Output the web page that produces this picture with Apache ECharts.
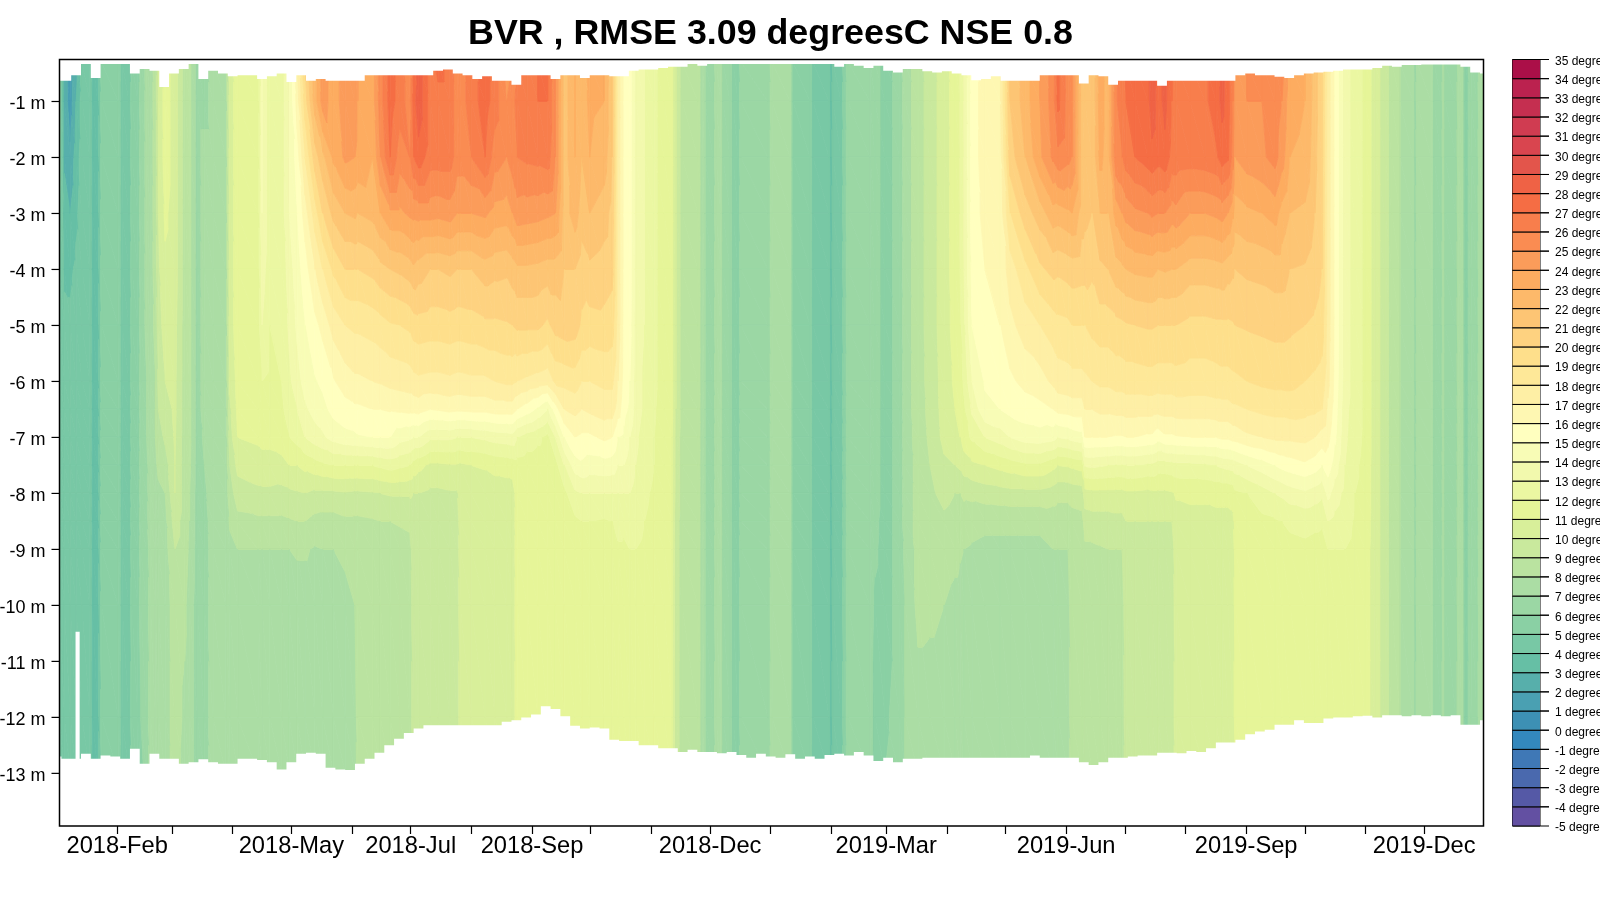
<!DOCTYPE html>
<html><head><meta charset="utf-8">
<style>html,body{margin:0;padding:0;background:#fff}#c{width:1600px;height:900px}</style>
<script src="https://cdn.jsdelivr.net/npm/echarts@6/dist/echarts.min.js"></script>
</head><body><div id="c"></div>
<script>
const titleText = "BVR , RMSE 3.09 degreesC NSE 0.8";
const depthTicks = [-1,-2,-3,-4,-5,-6,-7,-8,-9,-10,-11,-12,-13];
const monthTickDays = [31,59,90,120,151,181,212,243,273,304,334,365,396,424,455,485,516,546,577,608,638,669,699];
const labelDays = [31,120,181,243,334,424,516,608,699];
const labelTexts = ["2018-Feb","2018-May","2018-Jul","2018-Sep","2018-Dec","2019-Mar","2019-Jun","2019-Sep","2019-Dec"];
const legendLevels = [];
for (let k=-5;k<35;k++) legendLevels.push(k);
const depths = [0.3,1,2,3,4,5,6,6.5,7,7.5,8,8.5,9,10,12,13];
// each row: day since 2018-01-01, then temperature at each depth
const profileTable = [
[1.5,5.5,5.5,5.5,5,4.7,4.5,4.5,4.5,4.5,4.5,4.5,4.5,4.5,4.5,4.5,4.5],
[4,2.5,2.5,2.8,3.5,3.8,4.3,4.5,4.5,4.5,4.5,4.5,4.5,4.5,4.5,4.5,4.5],
[7,1.5,1.5,2.2,3,3.8,4.2,4.5,4.5,4.5,4.5,4.5,4.5,4.5,4.5,4.5,4.5],
[10,2.5,3,3.5,3.8,4.2,4.5,4.5,4.5,4.5,4.5,4.5,4.5,4.5,4.5,4.5,4.5],
[13,4.5,4.5,4.5,4.5,4.5,4.5,4.5,4.5,4.5,4.5,4.5,4.5,4.5,4.5,4.5,4.5],
[17,4.5,4.5,4.5,4.5,4.5,4.5,4.5,4.5,4.5,4.5,4.5,4.5,4.5,4.5,4.5,4.5],
[18.5,3.5,3.5,3.5,3.5,3.5,3.5,3.5,3.5,3.5,3.5,3.5,3.5,3.5,3.5,3.5,3.5],
[21,3.5,3.5,3.5,3.5,3.5,3.5,3.5,3.5,3.5,3.5,3.5,3.5,3.5,3.5,3.5,3.5],
[23,5.5,5.5,5.5,5.5,5.5,5.5,5.5,5.5,5.5,5.5,5.5,5.5,5.5,5.5,5.5,5.5],
[31.5,5.5,5.5,5.5,5.5,5.5,5.5,5.5,5.5,5.5,5.5,5.5,5.5,5.5,5.5,5.5,5.5],
[33.5,4.5,4.5,4.5,4.5,4.5,4.5,4.5,4.5,4.5,4.5,4.5,4.5,4.5,4.5,4.5,4.5],
[37,4.5,4.5,4.5,4.5,4.5,4.5,4.5,4.5,4.5,4.5,4.5,4.5,4.5,4.5,4.5,4.5],
[38.5,5.5,5.5,5.5,5.5,5.5,5.5,5.5,5.5,5.5,5.5,5.5,5.5,5.5,5.5,5.5,5.5],
[41.5,5.5,5.5,5.5,5.5,5.5,5.5,5.5,5.5,5.5,5.5,5.5,5.5,5.5,5.5,5.5,5.5],
[43,6.5,6.5,6.5,6.5,6.5,6.5,6.5,6.5,6.5,6.5,6.5,6.5,6.5,6.5,6,5.5],
[46,7.2,7.2,7.2,7.2,7.2,7.2,7,7,7,6.8,6.8,6.8,6.5,6.5,6.5,6.5],
[48,7.5,7.5,7.5,7.5,7.5,7.5,7.5,7.5,7.5,7.5,7.5,7.5,7.5,7.5,7.5,7.5],
[50.5,8.5,8.5,8.5,8.5,8.5,8.3,8,8,8,7.8,7.6,7.5,7.5,7.5,7.5,7.5],
[52,10,10,10,10,9.8,9.5,9.2,9,8.5,8.2,7.8,7.6,7.5,7.5,7.5,7.5],
[55.5,11.5,11.5,11.5,11.2,10.8,10.5,10,9.5,9.2,8.5,8,7.7,7.6,7.5,7.5,7.5],
[60.5,10.5,10.5,10.5,10.5,10.5,10.3,10.2,10.2,10.1,10,10,9.5,9,8.5,8.5,8.5],
[65.5,8.5,8.5,8.5,8.5,8.5,8.5,8.5,8.5,8.5,8.5,8.5,8.5,8.5,8.2,7.8,7.6],
[68,8.3,8.3,8.3,8.3,8.3,8.3,8.3,8.3,8.3,8.2,8,8,7.8,7.5,7.5,7.5],
[72,6.5,6.5,6.5,6.5,6.5,6.5,6.5,6.5,6.5,6.5,6.5,6.5,6.5,6.5,6.5,6.5],
[75.5,6.5,6.5,7.5,7.5,7.5,7.5,7.5,7.5,7.2,7,6.8,6.6,6.5,6.5,6.5,6.5],
[80,7.5,7.5,7.5,7.5,7.5,7.5,7.5,7.5,7.5,7.5,7.5,7.5,7.5,7.5,7.5,7.5],
[86.5,7.5,7.5,7.5,7.5,7.5,7.5,7.5,7.5,7.5,7.5,7.5,7.5,7.5,7.3,7.2,7],
[88.5,10.5,10.5,10.5,10.5,10.5,10.5,10.2,9.8,9.5,9,8.5,8.1,7.8,7.5,7.5,7.5],
[92.5,11.5,11.5,11.5,11.5,11.5,11.5,11.3,11.2,11,10.3,9.5,8.7,8,7.6,7.5,7.5],
[103,11.5,11.5,11.5,11.5,11.5,11.5,11.4,11.2,11.2,10.5,9.8,8.8,8,7.6,7.5,7.5],
[105,14,14,14,14,13.5,13,12,11.6,11.3,10.6,9.8,8.8,8,7.6,7.5,7.5],
[109,12.3,12.3,12.3,12.3,12.3,12,11.8,11.5,11.3,10.6,9.8,8.8,8,7.6,7.5,7.5],
[115,12.5,12.5,12.5,12.5,12.3,12.2,12,11.8,11.5,10.7,9.7,8.8,8,7.5,7.5,7.5],
[119,14,14,14,14,13.5,13.2,12.8,12.5,12,11,9.8,8.9,8,7.5,7.5,7.5],
[123,17,16.5,15.5,15,14.6,14.2,13.6,13,12.4,11,9.9,9,8.1,7.6,7.5,7.5],
[127,20,19.5,18,16.5,15.5,15,14.4,13.8,13,11.3,10,9,8.1,7.6,7.5,7.5],
[132,22.5,22.5,20.5,18.5,17,15.7,14.9,14.4,13.5,11.6,9.8,8.7,7.9,7.6,7.5,7.5],
[136,24.5,24.5,21.7,20,18,16.3,15.2,14.7,13.8,11.8,9.8,8.6,8,7.6,7.5,7.5],
[141.5,23.5,23.5,23.2,21.3,19.2,17.4,15.9,15.3,14.4,12,9.8,8.6,8,7.6,7.5,7.5],
[147.5,24.5,24.5,24.2,22,20,18,16.5,15.6,14.7,12,9.9,8.8,8.2,7.7,7.5,7.5],
[152.5,24.5,24.5,24,22.2,20,18.2,16.8,15.8,14.8,12,9.8,8.8,8.4,8,7.6,7.5],
[154,24,24,23.8,22,20,18.2,16.8,15.8,14.9,12,9.8,8.8,8.5,8.5,8.5,8.5],
[161.5,23.5,23.5,23,22.3,20.3,18.4,17,16,15,12,9.9,8.9,8.6,8.5,8.5,8.5],
[165.5,25.5,25.5,25,23,20.7,18.6,17.1,16,15,12.2,10,9,8.6,8.5,8.5,8.5],
[170.5,27.5,27.5,27,23.8,21,18.9,17.3,16.1,15,12.4,10.1,9,8.6,8.5,8.5,8.5],
[175.5,26.5,26.5,25.5,23.8,21.2,19,17.4,16.2,14.4,12.2,10.1,9.1,8.6,8.5,8.5,8.5],
[180.5,25,25.5,26,24.2,21.5,19.2,17.5,16.3,14.2,12,10.1,9.2,8.7,8.5,8.5,8.5],
[182.5,27,27.5,27,24.3,21.8,19.5,17.7,16.3,14,11.6,10,9.6,9.5,9.5,9.5,9.5],
[185,28.7,28.7,27.6,24.4,21.5,19.6,17.8,16.4,14,11.3,10,9.6,9.5,9.5,9.5,9.5],
[191,26.5,26.5,26.5,24.4,21,19.5,17.7,16,13.2,10.8,9.8,9.6,9.5,9.5,9.5,9.5],
[195,27.5,26.5,26.5,24.3,21,19.5,17.7,16.1,13.2,10.8,9.8,9.6,9.5,9.5,9.5,9.5],
[201,26.5,26.5,26.5,24.5,21.2,19.6,17.8,16.3,13.2,10.9,9.9,9.5,9.5,9.5,9.5,9.5],
[204.8,25.5,25.5,25.5,24,21,19.5,17.7,16.2,13,10.9,9.9,9.5,9.5,9.5,9.5,9.5],
[206.3,25.5,25.5,25.5,24,21,19.5,17.7,16.2,13,10.8,10.5,10.5,10.5,10.5,10.5,10.5],
[212,26.5,26.5,26,24,21,19.6,17.8,16.3,13,11,10.5,10.5,10.5,10.5,10.5,10.5],
[219,27.5,27.5,27,24.2,21.5,19.8,17.8,16.3,13.2,11.1,10.5,10.5,10.5,10.5,10.5,10.5],
[224,26.5,26.5,25.5,23.6,21.3,19.8,18,16.5,13.4,11.3,10.5,10.5,10.5,10.5,10.5,10.5],
[230,24.5,25,25,23.5,21.2,19.9,18.2,16.5,13.5,11.4,10.5,10.5,10.5,10.5,10.5,10.5],
[233,25,25.5,25.5,24,21.5,20,18.2,16.5,13.6,11.5,10.5,10.5,10.5,10.5,10.5,10.5],
[235.5,26,26.5,26,24.6,21.8,20.2,18,16,13,11.6,11.5,11.5,11.5,11.5,11.5,11.5],
[240.5,26.5,26.5,26.2,24.5,21.8,20.2,17.8,15.5,12.5,11.5,11.5,11.5,11.5,11.5,11.5,11.5],
[246,27,27,26.3,24.4,21.7,20.2,17.6,14.8,12.2,11.5,11.5,11.5,11.5,11.5,11.5,11.5],
[251,27,27,26.5,24.2,21.5,19.8,17.4,14,11.7,11.5,11.5,11.5,11.5,11.5,11.5,11.5],
[255,25,25,25,24,21.5,20.4,18.2,15.5,13,11.6,11.5,11.5,11.5,11.5,11.5,11.5],
[259.5,21.5,21.5,21.5,21.5,21,20.6,18.3,17,15,13,11.7,11.5,11.5,11.5,11.5,11.5],
[265,23,23,23,22.5,21,20.5,18.5,17.3,16,14.5,12.8,11.8,11.5,11.5,11.5,11.5],
[268.5,22.5,22.5,22,21.5,20.5,19.8,18,17,15.8,14.8,13,12,11.5,11.5,11.5,11.5],
[272.5,23.2,23.2,23,22,20.8,19.6,18,17.2,15.8,14.5,13,12,11.6,11.5,11.5,11.5],
[280,23,23,22.5,21.5,20.5,19.7,18.2,17.5,16.2,14.6,13,11.9,11.5,11.5,11.5,11.5],
[284,21,21,21,20.6,20.3,19.5,18.2,17.5,16,14.5,13,12,11.6,11.5,11.5,11.5],
[287,17.5,17.5,17.5,17.5,17.5,17.5,17,16.5,15,14,13,12.5,11.8,11.5,11.5,11.5],
[290,15.8,15.8,15.8,15.8,15.8,15.7,15.6,15.3,14.8,14,13,12.3,11.8,11.5,11.5,11.5],
[293,15.5,15.5,15.5,15.5,15.5,15.4,15,14.8,14,13.5,13,12.5,12,11.5,11.5,11.5],
[296,13.5,13.5,13.5,13.5,13.5,13.5,13.5,13.5,13.2,13,12.7,12.4,12,11.5,11.5,11.5],
[300.5,13,13,13,13,13,13,12.8,12.8,12.5,12.5,12.2,12,11.8,11.5,11.5,11.5],
[305.5,12.2,12.2,12.2,12.2,12.2,12.2,12.2,12.1,12,12,11.8,11.7,11.6,11.5,11.5,11.5],
[310.5,11.5,11.5,11.5,11.5,11.5,11.5,11.5,11.5,11.5,11.5,11.5,11.5,11.5,11.5,11.5,11.5],
[314.6,11.2,11.2,11.2,11.2,11.2,11.2,11.2,11.2,11,11,11,11,11,11,11,11],
[316.6,10,10,10,10,10,10,10,10,9.8,9.8,9.8,9.5,9.5,9.5,9.5,9.5],
[319.7,8.5,8.5,8.5,8.5,8.5,8.5,8.5,8.5,8.5,8.5,8.5,8.5,8.5,8.5,8.5,8.5],
[327.8,8.5,8.5,8.5,8.5,8.5,8.5,8.5,8.5,8.5,8.5,8.5,8.5,8.5,8.5,8.5,8.5],
[329.9,7.5,7.5,7.5,7.5,7.5,7.5,7.5,7.5,7.5,7.5,7.5,7.5,7.5,7.5,7.5,7.5],
[331.4,7,7,7,7,7,7,7,7,7,7,7,7,7,7,7,7],
[335.5,6.5,6.5,6.5,6.5,6.5,6.5,6.5,6.5,6.5,6.5,6.5,6.5,6.5,6.5,6.5,6.5],
[337,7.5,7.5,7.5,7.5,7.5,7.5,7.5,7.5,7.5,7.5,7.5,7.5,7.5,7.5,7.5,7.5],
[339.5,7.5,7.5,7.5,7.5,7.5,7.5,7.5,7.5,7.5,7.5,7.5,7.5,7.5,7.5,7.5,7.5],
[340.6,6.5,6.5,6.5,6.5,6.5,6.5,6.5,6.5,6.5,6.5,6.5,6.5,6.5,6.5,6.5,6.5],
[344.2,6.5,6.5,6.5,6.5,6.5,6.5,6.5,6.5,6.5,6.5,6.5,6.5,6.5,6.5,6.5,6.5],
[345.7,5.5,5.5,5.5,5.5,5.5,5.5,5.5,5.5,5.5,5.5,5.5,5.5,5.5,5.5,5.5,5.5],
[348.3,5.5,5.5,5.5,5.5,5.5,5.5,5.5,5.5,5.5,5.5,5.5,5.5,5.5,5.5,5.5,5.5],
[349.8,6.5,6.5,6.5,6.5,6.5,6.5,6.5,6.5,6.5,6.5,6.5,6.5,6.5,6.5,6.5,6.5],
[363.6,6.5,6.5,6.5,6.5,6.5,6.5,6.5,6.5,6.5,6.5,6.5,6.5,6.5,6.5,6.5,6.5],
[365.7,7.5,7.5,7.5,7.5,7.5,7.5,7.5,7.5,7.5,7.5,7.5,7.5,7.5,7.5,7.5,7.5],
[374.9,7.5,7.5,7.5,7.5,7.5,7.5,7.5,7.5,7.5,7.5,7.5,7.5,7.5,7.5,7.5,7.5],
[376.4,5.5,5.5,5.5,5.5,5.5,5.5,5.5,5.5,5.5,5.5,5.5,5.5,5.5,5.5,5.5,5.5],
[385.1,5.5,5.5,5.5,5.5,5.5,5.5,5.5,5.5,5.5,5.5,5.5,5.5,5.5,5.5,5.5,5.5],
[386.6,4.5,4.5,4.5,4.5,4.5,4.5,4.5,4.5,4.5,4.5,4.5,4.5,4.5,4.5,4.5,4.5],
[394.8,4.5,4.5,4.5,4.5,4.5,4.5,4.5,4.5,4.5,4.5,4.5,4.5,4.5,4.5,4.5,4.5],
[395.8,3.5,3.5,3.5,3.5,3.5,3.5,3.5,3.5,3.5,3.5,3.5,3.5,3.5,3.5,3.5,3.5],
[396.8,4.5,4.5,4.5,4.5,4.5,4.5,4.5,4.5,4.5,4.5,4.5,4.5,4.5,4.5,4.5,4.5],
[400.9,4.5,4.5,4.5,4.5,4.5,4.5,4.5,4.5,4.5,4.5,4.5,4.5,4.5,4.5,4.5,4.5],
[402.5,5.5,5.5,5.5,5.5,5.5,5.5,5.5,5.5,5.5,5.5,5.5,5.5,5.5,5.5,5.5,5.5],
[404.5,6.5,6.5,6.5,6.5,6.5,6.5,6.5,6.5,6.5,6.5,6.5,6.5,6.5,6.5,6.5,6.5],
[415.8,6.5,6.5,6.5,6.5,6.5,6.5,6.5,6.5,6.5,6.5,6.5,6.5,6.5,6.5,6.5,6.5],
[418.3,6.5,6.5,6.5,6.5,6.5,6.5,6.5,6.5,6.5,6.5,6.5,6.3,6.2,5.8,5.5,5.5],
[423.4,5.5,5.5,5.5,5.5,5.5,5.5,5.5,5.5,5.5,5.5,5.5,5.5,5.5,5.5,5.8,6],
[431,6.5,6.5,6.5,6.5,6.5,6.5,6.5,6.5,6.5,6.5,6.5,6.5,6.5,6.5,6.5,6.5],
[433.6,7.5,7.5,7.5,7.5,7.5,7.5,7.5,7.5,7.5,7.5,7.5,7.5,7.2,7,7,7],
[440.3,8.5,8.5,8.5,8.5,8.5,8.5,8.5,8.5,8.4,8.3,8.3,8.3,8.3,8.3,7.5,7.5],
[446.4,9.5,9.5,9.5,9.5,9.5,9.5,9.4,9.3,9.2,9,8.8,8.6,8.5,8.2,7.5,7.5],
[453.6,10.5,10.5,10.5,10.5,10.5,10.5,10.4,10.4,10.3,9.8,9.3,8.8,8.5,8,7.5,7.5],
[459.2,11.5,11.5,11.5,11.5,11.5,11.4,11.2,11,10.8,10,9,8.6,8.3,7.7,7.5,7.5],
[461.8,12,12,12,12,12,11.8,11.5,11.3,11,10.2,9,8.5,8.1,7.7,7.5,7.5],
[463.8,13,13,13,13,13,12.8,12.2,11.8,11.5,10.5,9.2,8.5,8,7.6,7.5,7.5],
[467.9,15.5,15.5,15.5,15.5,15.3,15,14,13.2,12.2,10.8,9.3,8.3,7.9,7.6,7.5,7.5],
[474.5,16.5,16.5,16.5,16.3,16,15.6,15.1,14.8,13,11,9.5,8.2,7.8,7.6,7.5,7.5],
[482.2,16.8,16.8,16.5,16.3,16.2,16,15.5,15,13.5,11.3,9.6,8.2,7.8,7.6,7.5,7.5],
[487.3,21,21,20.5,19,17.5,16.7,15.8,15.3,14,11.5,9.7,8.2,7.8,7.6,7.5,7.5],
[495,22.5,22.5,22,20.5,18.7,17.5,16.3,15.5,14.5,11.8,9.7,8.2,7.8,7.6,7.5,7.5],
[502.6,24,24,23.8,21.5,19.8,18,16.6,15.7,14.6,11.8,9.7,8.2,7.8,7.7,7.6,7.5],
[509.3,25.5,25.5,25.2,22.6,20.3,18.5,17.2,16,14.4,11.3,9.5,8.4,8,7.7,7.7,7.7],
[511.8,27.3,27.3,25.7,22.5,20.2,18.7,17.5,16.3,14,11,9.3,8.4,8,7.7,7.7,7.7],
[517,25.5,25.5,25.3,22.8,20.4,18.8,17.6,16.4,14.2,11.1,9.3,8.4,8,7.7,7.7,7.7],
[519,25,25,25,23,20.5,19,17.7,16.5,14.4,11.2,9.4,8.6,8.5,8.5,8.5,8.5],
[524.1,21.5,21.5,21.5,21.5,20.4,19,17.7,16.5,14.6,11.4,9.5,8.7,8.5,8.5,8.5,8.5],
[525.6,21.3,21.3,21.3,21.3,20.4,19,17.8,17,16,13.1,10.6,9.5,8.8,8.5,8.5,8.5],
[529.2,21,21,21,21,20.2,19.3,18,17,16,13.2,10.7,9.6,8.8,8.5,8.5,8.5],
[533.3,23.5,23.5,23.3,22,20.8,19.5,18.2,17.2,16,13.1,10.7,9.6,8.9,8.5,8.5,8.5],
[537.4,22.5,22.5,22.5,22,21,19.5,18.2,17.2,16,13,10.7,9.6,9,8.5,8.5,8.5],
[541.5,25.8,25.8,25.8,23.4,21.6,19.7,18.4,17.3,15.9,12.9,10.7,9.7,9,8.6,8.5,8.5],
[544.6,26.8,26.8,26,24,21.8,19.8,18.4,17.3,15.9,12.9,10.7,9.7,9,8.6,8.5,8.5],
[546.6,27,27,26.5,24.4,22,19.9,18.5,17.4,16,13,10.8,10,9.6,9.5,9.5,9.5],
[551.2,27.5,27.5,27,24.8,22.2,20,18.5,17.4,16,13,10.8,10,9.6,9.5,9.5,9.5],
[557.8,27.7,27.7,27.5,25,22.3,20.1,18.6,17.4,15.8,12.8,10.7,10,9.6,9.5,9.5,9.5],
[559.9,28.6,28.6,27.7,25.2,22.3,20.1,18.6,17.4,15.8,12.8,10.8,10,9.6,9.5,9.5,9.5],
[563,27.6,27.6,27.4,25,22,20,18.5,17.3,15.4,12.5,10.8,10,9.6,9.5,9.5,9.5],
[566.5,28.3,28.3,27.7,25,22.1,20,18.5,17.4,15.8,12.5,10.8,10,9.6,9.5,9.5,9.5],
[570.1,27,27,26.6,24.5,22,20,18.5,17.4,15.8,12.6,10.9,10,9.6,9.5,9.5,9.5],
[572.2,26.7,26.7,26.6,24.7,22,20,18.6,17.5,15.9,12.7,11.1,10.7,10.5,10.5,10.5,10.5],
[579.3,26.7,26.7,26.5,24,21.5,19.7,18.5,17.5,16,12.7,11.2,10.7,10.5,10.5,10.5,10.5],
[587,26.8,26.8,26.6,24,21.5,19.7,18.5,17.5,16,12.8,11.2,10.7,10.5,10.5,10.5,10.5],
[592.6,27.5,27.5,26.8,24.2,21.6,19.8,18.6,17.6,16,13,11.3,10.7,10.5,10.5,10.5,10.5],
[595.7,28.3,28.3,27.5,24.4,21.7,19.8,18.7,17.6,16.2,13.2,11.3,10.7,10.5,10.5,10.5,10.5],
[598.7,27.5,27.5,27.2,24,21.4,19.8,18.7,17.6,16.2,13.3,11.3,10.7,10.5,10.5,10.5,10.5],
[601.3,26,26,25.5,23.2,21.2,19.9,18.8,17.8,16.4,13.4,11.4,10.8,10.5,10.5,10.5,10.5],
[602.3,24.5,24.5,24,22.5,21,20,18.8,17.8,16.4,13.5,11.8,11.5,11.5,11.5,11.5,11.5],
[608.4,25,25,24.5,22.8,21.2,20.1,19,18,16.8,14,12,11.6,11.5,11.5,11.5,11.5],
[616.1,25,25,24.8,23,21.3,20.2,19.2,18.2,17,14.5,12.5,11.8,11.5,11.5,11.5,11.5],
[622.7,25.5,25.5,25.4,23.4,21.5,20.3,19.3,18.3,17.2,15,13,11.9,11.5,11.5,11.5,11.5],
[626.3,25.5,25,24.5,22.6,21.5,20.3,19.3,18.3,17.2,15.3,13.2,12,11.6,11.5,11.5,11.5],
[630.4,23.3,23.3,23,22,21,20.2,19.3,18.4,17.2,15.5,13.5,12.2,11.7,11.5,11.5,11.5],
[638.1,23,23,22.8,21.8,20.9,20,19,18.3,17.3,15.8,13.8,12.3,11.8,11.5,11.5,11.5],
[643.2,21.5,21.5,21.3,21,20.5,19.8,18.8,18.2,17,15.5,13.5,12.2,11.7,11.5,11.5,11.5],
[646.8,20,20,20,20,20,19.5,18.6,18,16.6,15,13.2,12.1,11.7,11.5,11.5,11.5],
[649.8,17.5,17.5,17.5,17.5,17.5,17.5,17.3,16.8,16.3,15.5,14.3,13,12,11.6,11.5,11.5],
[653.4,15.8,15.8,15.8,15.8,15.8,15.8,15.7,15.5,15.2,14.5,13.5,12.7,12,11.6,11.5,11.5],
[658.5,13.5,13.5,13.5,13.5,13.5,13.5,13.5,13.3,13.2,13,12.7,12.3,12,11.5,11.5,11.5],
[663.6,12.5,12.5,12.5,12.5,12.5,12.5,12.5,12.5,12.4,12.2,12,11.9,11.8,11.5,11.5,11.5],
[668.7,11.8,11.8,11.8,11.8,11.8,11.8,11.8,11.8,11.8,11.7,11.7,11.6,11.5,11.5,11.5,11.5],
[673.8,10.5,10.5,10.5,10.5,10.5,10.5,10.5,10.5,10.5,10.5,10.5,10.5,10.5,10.5,10.5,10.5],
[679,9.5,9.5,9.5,9.5,9.5,9.5,9.5,9.5,9.5,9.5,9.5,9.5,9.5,9.5,9.5,9.5],
[682.5,8.5,8.5,8.5,8.5,8.5,8.5,8.5,8.5,8.5,8.5,8.5,8.5,8.5,8.5,8.5,8.5],
[686.6,8,8,8,8,8,8,8,8,8,8,8,8,8,8,8,8],
[693.3,7.5,7.5,7.5,7.5,7.5,7.5,7.5,7.5,7.5,7.5,7.5,7.5,7.5,7.5,7.5,7.5],
[694.3,6.5,6.5,6.5,6.5,6.5,6.5,6.5,6.5,6.5,6.5,6.5,6.5,6.5,6.5,6.5,6.5],
[695.3,7.5,7.5,7.5,7.5,7.5,7.5,7.5,7.5,7.5,7.5,7.5,7.5,7.5,7.5,7.5,7.5],
[702.5,7.5,7.5,7.5,7.5,7.5,7.5,7.5,7.5,7.5,7.5,7.5,7.5,7.5,7.5,7.5,7.5],
[704,6.5,6.5,6.5,6.5,6.5,6.5,6.5,6.5,6.5,6.5,6.5,6.5,6.5,6.5,6.5,6.5],
[707.6,6.5,6.5,6.5,6.5,6.5,6.5,6.5,6.5,6.5,6.5,6.5,6.5,6.5,6.5,6.5,6.5],
[708.6,7.5,7.5,7.5,7.5,7.5,7.5,7.5,7.5,7.5,7.5,7.5,7.5,7.5,7.5,7.5,7.5],
[709.6,6.5,6.5,6.5,6.5,6.5,6.5,6.5,6.5,6.5,6.5,6.5,6.5,6.5,6.5,6.5,6.5],
[715.2,6.5,6.5,6.5,6.5,6.5,6.5,6.5,6.5,6.5,6.5,6.5,6.5,6.5,6.5,6.5,6.5],
[716.3,7.5,7.5,7.5,7.5,7.5,7.5,7.5,7.5,7.5,7.5,7.5,7.5,7.5,7.5,7.5,7.5],
[718.3,7.5,7.5,7.5,7.5,7.5,7.5,7.5,7.5,7.5,7.5,7.5,7.5,7.5,7.5,7.5,7.5],
[719.8,5.5,5.5,5.5,5.5,5.5,5.5,5.5,5.5,5.5,5.5,5.5,5.5,5.5,5.5,5.5,5.5],
[723,6.5,6.5,6.5,6.5,6.5,6.5,6.5,6.5,6.5,6.5,6.5,6.5,6.5,6.5,6.5,6.5],
[726,6.5,6.5,6.5,6.5,6.5,6.5,6.5,6.5,6.5,6.5,6.5,6.5,6.5,6.5,6.5,6.5],
[727,7.5,7.5,7.5,7.5,7.5,7.5,7.5,7.5,7.5,7.5,7.5,7.5,7.5,7.5,7.5,7.5],
[730,7.5,7.5,7.5,7.5,7.5,7.5,7.5,7.5,7.5,7.5,7.5,7.5,7.5,7.5,7.5,7.5]
];
// water surface and lake bottom depth, one value every 5 days from day 0
const surfaceDepth = [.63,.63,.53,.33,.58,.33,.33,.33,.5,.42,.45,.74,.5,.42,.33,.6,.45,.5,.55,.53,.53,.6,.55,.5,.65,.53,.63,.6,.63,.63,.63,.63,.53,.53,.53,.53,.53,.53,.53,.45,.43,.5,.53,.6,.55,.63,.63,.7,.53,.53,.53,.6,.53,.53,.58,.53,.53,.55,.55,.45,.43,.43,.4,.38,.38,.33,.36,.33,.33,.33,.33,.33,.33,.33,.33,.33,.33,.33,.33,.33,.38,.33,.36,.4,.36,.45,.48,.42,.42,.46,.48,.46,.5,.53,.62,.6,.55,.63,.63,.63,.63,.53,.53,.53,.53,.68,.53,.55,.7,.63,.63,.63,.63,.72,.63,.63,.63,.63,.63,.63,.63,.53,.5,.53,.53,.56,.58,.53,.5,.48,.47,.45,.43,.43,.43,.4,.36,.38,.35,.35,.34,.34,.34,.34,.38,.48,.5];
const bottomDepth = [12.7,12.74,12.74,12.65,12.74,12.68,12.7,12.74,12.56,12.83,12.65,12.74,12.74,12.83,12.8,12.75,12.8,12.83,12.83,12.74,12.74,12.76,12.8,12.93,12.8,12.65,12.63,12.65,12.9,12.93,12.94,12.83,12.74,12.63,12.5,12.38,12.28,12.2,12.14,12.14,12.14,12.14,12.14,12.14,12.14,12.14,12.08,12.05,12,11.95,11.8,11.85,11.98,12.15,12.2,12.18,12.2,12.4,12.42,12.42,12.5,12.5,12.55,12.55,12.62,12.58,12.62,12.62,12.64,12.62,12.67,12.72,12.65,12.7,12.72,12.66,12.74,12.7,12.74,12.67,12.65,12.68,12.62,12.68,12.78,12.72,12.8,12.74,12.74,12.72,12.72,12.72,12.72,12.72,12.72,12.72,12.72,12.72,12.72,12.72,12.68,12.72,12.72,12.72,12.72,12.8,12.85,12.8,12.72,12.72,12.7,12.68,12.68,12.63,12.63,12.64,12.6,12.62,12.55,12.45,12.45,12.4,12.3,12.25,12.22,12.13,12.13,12.05,12.1,12.1,12.02,12,12,11.98,11.97,12,11.96,11.96,11.98,11.96,11.98,11.96,11.98,11.96,12.13,12.13,12.05];
const gapDays = [9.7, 11.8];
const gapTopDepth = 10.47;

const levelColors = ['#6350A2','#5559A6','#4A69AE','#3F78B6','#3388BD','#3D90B4','#4AA0B2','#57AFAB','#66BFA5','#78C8A5','#8AD0A4','#9BD7A4','#ABDDA4','#BAE3A0','#C9E99D','#D8EF9A','#E6F598','#EBF7A2','#F2F9AD','#F8FCB6','#FFFFBF','#FEF7B2','#FEEFA5','#FEE898','#FEDF8B','#FED280','#FDC574','#FDB96A','#FDAC60','#FB9C5A','#FA8C52','#F87E4C','#F56D44','#EF6245','#E3554B','#D9454F','#D03C51','#C52F50','#BB224F','#AB0F48'];
function levelColor(k){ return levelColors[Math.max(0,Math.min(39,k+5))]; }
const sampleDays = profileTable.map(r=>r[0]);
const cells=[];
for(let i=0;i<profileTable.length-1;i++){
  for(let j=0;j<depths.length-1;j++){
    cells.push([sampleDays[i],sampleDays[i+1],depths[j],depths[j+1],
      profileTable[i][j+1],profileTable[i+1][j+1],profileTable[i][j+2],profileTable[i+1][j+2]]);
  }
}
function clipBand(tri,lo,hi){
  function clip(poly,limit,keepAbove){
    const out=[];
    for(let n=0;n<poly.length;n++){
      const a=poly[n],b=poly[(n+1)%poly.length];
      const ia=keepAbove?a[2]>=limit:a[2]<=limit, ib=keepAbove?b[2]>=limit:b[2]<=limit;
      if(ia) out.push(a);
      if(ia!==ib){const f=(limit-a[2])/(b[2]-a[2]);out.push([a[0]+(b[0]-a[0])*f,a[1]+(b[1]-a[1])*f,limit]);}
    }
    return out;
  }
  return clip(clip(tri,lo,true),hi,false);
}
function renderCell(params,api){
  const d0=api.value(0),d1=api.value(1),z0=api.value(2),z1=api.value(3);
  const A=[d0,z0,api.value(4)],B=[d1,z0,api.value(5)],C=[d0,z1,api.value(6)],D=[d1,z1,api.value(7)];
  const children=[];
  [[A,B,D],[A,D,C]].forEach(tri=>{
    const ts=tri.map(p=>p[2]);
    const lo=Math.floor(Math.min(...ts)),hi=Math.floor(Math.max(...ts));
    for(let k=lo;k<=hi;k++){
      const poly=clipBand(tri,k,k+1);
      if(poly.length<3) continue;
      const c=levelColor(k);
      children.push({type:'polygon',shape:{points:poly.map(p=>api.coord([p[0],-p[1]]))},
        style:{fill:c,stroke:c,lineWidth:0.8},silent:true});
    }
  });
  return {type:'group',children};
}
const DAYMIN=1.5,DAYMAX=729.3,DEPTHTOP=-0.25,DEPTHBOT=-13.94;
function renderMask(params,api){
  const topPts=[[DAYMIN,DEPTHTOP]],botPts=[[DAYMIN,DEPTHBOT]];
  surfaceDepth.forEach((v,i)=>{const a=Math.max(DAYMIN,i*5-2.5),b=Math.min(DAYMAX,i*5+2.5);if(b>a){topPts.push([a,-v],[b,-v]);}});
  topPts.push([DAYMAX,DEPTHTOP]);
  bottomDepth.forEach((v,i)=>{const a=Math.max(DAYMIN,i*5-2.5),b=Math.min(DAYMAX,i*5+2.5);if(b>a){botPts.push([a,-v],[b,-v]);}});
  botPts.push([DAYMAX,DEPTHBOT]);
  const gap=[[gapDays[0],-gapTopDepth],[gapDays[1],-gapTopDepth],[gapDays[1],-13],[gapDays[0],-13]];
  const mk=pts=>({type:'polygon',shape:{points:pts.map(p=>api.coord(p))},style:{fill:'#fff'}});
  return {type:'group',children:[mk(topPts),mk(botPts),mk(gap)]};
}
function renderFrame(params,api){
  const a=api.coord([DAYMIN,DEPTHTOP]),b=api.coord([DAYMAX,DEPTHBOT]);
  const children=[{type:'rect',shape:{x:a[0],y:a[1],width:b[0]-a[0],height:b[1]-a[1]},style:{fill:null,stroke:'#000',lineWidth:1.5}}];
  depthTicks.forEach(v=>{
    const p=api.coord([DAYMIN,v]);
    children.push({type:'line',shape:{x1:p[0]-8,y1:p[1],x2:p[0],y2:p[1]},style:{stroke:'#000',lineWidth:1.2}});
  });
  return {type:'group',children};
}
function renderLegendCell(params,api){
  const k=api.value(0);
  const a=api.coord([0,k+1]),b=api.coord([1,k]);
  return {type:'group',children:[
    {type:'rect',shape:{x:a[0],y:a[1],width:b[0]-a[0],height:b[1]-a[1]},style:{fill:levelColor(k)}},
    {type:'line',shape:{x1:a[0],y1:a[1],x2:b[0]+9,y2:a[1]},style:{stroke:'#000',lineWidth:1}},
    {type:'line',shape:{x1:a[0],y1:b[1],x2:b[0]+9,y2:b[1]},style:{stroke:'#000',lineWidth:1}}
  ]};
}
const FONT='"Liberation Sans",Arial,sans-serif';
const chart=echarts.init(document.getElementById('c'),null,{renderer:'canvas',width:1600,height:900});
chart.setOption({
  animation:false,
  backgroundColor:'#fff',
  title:{text:titleText,left:765.5,top:11,textAlign:'center',textStyle:{fontFamily:FONT,fontWeight:'bold',fontSize:35.8,color:'#000'}},
  grid:[
    {left:59.5,top:59.5,width:1424,height:766.5,containLabel:false,outerBoundsMode:'none'},
    {left:1512.5,top:59.5,width:27.5,height:766.5,containLabel:false,outerBoundsMode:'none',show:true,borderColor:'#000',borderWidth:1,backgroundColor:'transparent'}
  ],
  xAxis:[
    {type:'value',gridIndex:0,min:DAYMIN,max:DAYMAX,splitLine:{show:false},axisLine:{show:false},
     axisTick:{show:true,length:8,customValues:monthTickDays,lineStyle:{color:'#000',width:1.2}},
     axisLabel:{show:true,customValues:labelDays,margin:8,fontFamily:FONT,fontSize:23.7,color:'#000',
       formatter:v=>labelTexts[labelDays.indexOf(v)]||''}},
    {type:'value',gridIndex:1,min:0,max:1,show:false}
  ],
  yAxis:[
    {type:'value',gridIndex:0,min:DEPTHBOT,max:DEPTHTOP,splitLine:{show:false},axisLine:{show:false},
     axisTick:{show:false},
     axisLabel:{show:true,customValues:depthTicks,margin:14,
       rich:{t:{fontFamily:FONT,fontSize:18,color:'#000',padding:[6,0,0,0]}},
       formatter:v=>'{t|'+v+' m}'}},
    {type:'value',gridIndex:1,min:-5,max:35,interval:1,position:'right',splitLine:{show:false},
     axisLine:{show:false},axisTick:{show:false},
     axisLabel:{show:true,margin:15,
       rich:{t:{fontFamily:FONT,fontSize:12,color:'#000',padding:[4,0,0,0]}},
       formatter:v=>'{t|'+v+' degrees}'}}
  ],
  series:[
    {type:'custom',name:'temperature',coordinateSystem:'cartesian2d',xAxisIndex:0,yAxisIndex:0,clip:true,silent:true,z:2,
     data:cells,renderItem:renderCell,progressive:0},
    {type:'custom',name:'mask',coordinateSystem:'cartesian2d',xAxisIndex:0,yAxisIndex:0,clip:true,silent:true,z:3,
     data:[[DAYMIN,-1]],renderItem:renderMask},
    {type:'custom',name:'frame',coordinateSystem:'cartesian2d',xAxisIndex:0,yAxisIndex:0,clip:false,silent:true,z:4,
     data:[[DAYMIN,-1]],renderItem:renderFrame},
    {type:'custom',name:'legend',coordinateSystem:'cartesian2d',xAxisIndex:1,yAxisIndex:1,silent:true,z:1,clip:false,
     data:legendLevels.map(k=>[k]),encode:{y:0},renderItem:renderLegendCell,progressive:0}
  ]
});
</script></body></html>
